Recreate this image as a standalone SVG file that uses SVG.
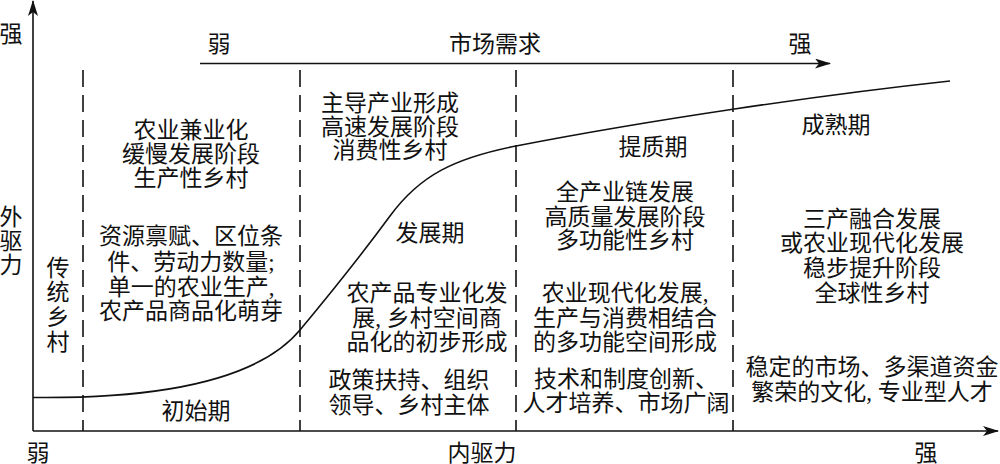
<svg xmlns="http://www.w3.org/2000/svg" width="1000" height="464" viewBox="0 0 1000 464">
<style>
text{font-family:"Liberation Serif","Noto Sans CJK SC",serif;font-size:23px;fill:#111;text-anchor:middle}
.ax{stroke:#111;stroke-width:1.6;fill:none}
.dash{stroke:#111;stroke-width:1.6;stroke-dasharray:17 8;fill:none}
.curve{stroke:#111;stroke-width:1.6;fill:none}
</style>
<defs>
<marker id="arr" viewBox="0 0 16 10" refX="15" refY="5" markerWidth="16" markerHeight="10" markerUnits="userSpaceOnUse" orient="auto">
<path d="M0,0 L16,5 L0,10 L4,5 Z" fill="#111"/>
</marker>
</defs>
<rect width="1000" height="464" fill="#fff"/>
<g id="connectors">
<line class="ax" x1="33" y1="431" x2="33" y2="1" marker-end="url(#arr)"/>
<line class="ax" x1="33" y1="431" x2="998" y2="431" marker-end="url(#arr)"/>
<line class="ax" x1="200" y1="63.5" x2="830" y2="63.5" marker-end="url(#arr)"/>
<line class="dash" x1="83" y1="70" x2="83" y2="431"/>
<line class="dash" x1="300" y1="70" x2="300" y2="431"/>
<line class="dash" x1="516" y1="70" x2="516" y2="431"/>
<line class="dash" x1="733" y1="70" x2="733" y2="431"/>
<path class="curve" d="M33,397.5 C170,399 260,378 300,330 C330,294 365,250 390,216 C420,175 455,158 516,146 C650,120 820,95 950,81"/>
</g>
<g id="axis-labels">
<text x="11" y="42">强</text>
<text x="11" y="225">外</text>
<text x="11" y="249">驱</text>
<text x="11" y="273">力</text>
<text x="38" y="461">弱</text>
<text x="482" y="461">内驱力</text>
<text x="926" y="461">强</text>
<text x="219" y="52">弱</text>
<text x="495" y="52">市场需求</text>
<text x="800" y="52">强</text>
</g>
<g id="traditional">
<text x="58" y="276">传</text>
<text x="58" y="300">统</text>
<text x="58" y="325">乡</text>
<text x="58" y="350">村</text>
</g>
<g id="initial">
<text x="191" y="138">农业兼业化</text>
<text x="191" y="162">缓慢发展阶段</text>
<text x="191" y="186">生产性乡村</text>
<text x="191" y="244">资源禀赋、区位条</text>
<text x="191" y="270">件、劳动力数量;</text>
<text x="191" y="295">单一的农业生产,</text>
<text x="191" y="319">农产品商品化萌芽</text>
<text x="196" y="419">初始期</text>
</g>
<g id="development">
<text x="390" y="111">主导产业形成</text>
<text x="390" y="135">高速发展阶段</text>
<text x="390" y="158">消费性乡村</text>
<text x="430" y="241">发展期</text>
<text x="427" y="301">农产品专业化发</text>
<text x="427" y="326">展, 乡村空间商</text>
<text x="427" y="350">品化的初步形成</text>
<text x="409" y="388">政策扶持、组织</text>
<text x="409" y="413">领导、乡村主体</text>
</g>
<g id="quality">
<text x="653" y="155">提质期</text>
<text x="625" y="200">全产业链发展</text>
<text x="625" y="225">高质量发展阶段</text>
<text x="625" y="248">多功能性乡村</text>
<text x="625" y="301">农业现代化发展,</text>
<text x="625" y="326">生产与消费相结合</text>
<text x="625" y="350">的多功能空间形成</text>
<text x="626" y="387">技术和制度创新、</text>
<text x="626" y="411">人才培养、市场广阔</text>
</g>
<g id="mature">
<text x="836" y="133">成熟期</text>
<text x="872" y="227">三产融合发展</text>
<text x="872" y="251">或农业现代化发展</text>
<text x="872" y="276">稳步提升阶段</text>
<text x="872" y="301">全球性乡村</text>
<text x="872" y="375">稳定的市场、多渠道资金</text>
<text x="872" y="400">繁荣的文化, 专业型人才</text>
</g>
</svg>
